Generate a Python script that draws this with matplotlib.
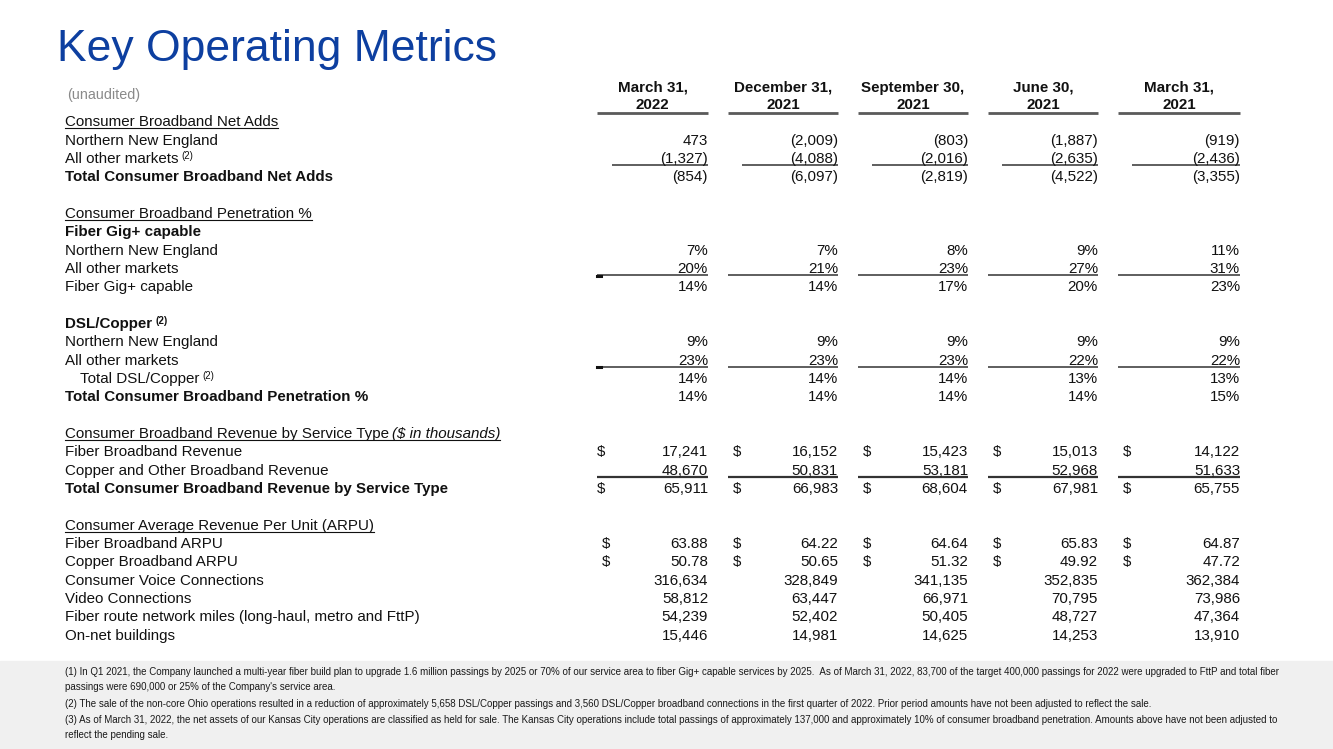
import matplotlib
matplotlib.use("Agg")
import matplotlib.pyplot as plt
from matplotlib.patches import Rectangle

plt.rcParams['font.family'] = ['Liberation Sans', 'DejaVu Sans']

# column headers
periods = ["March 31,\n2022", "December 31,\n2021", "September 30,\n2021", "June 30,\n2021", "March 31,\n2021"]

# consumer broadband net adds
nne_net_adds = [473, -2009, -803, -1887, -919]
other_net_adds = [-1327, -4088, -2016, -2635, -2436]
total_net_adds = [-854, -6097, -2819, -4522, -3355]

# penetration %
fiber_pen_nne = [7, 7, 8, 9, 11]
fiber_pen_other = [20, 21, 23, 27, 31]
fiber_pen_total = [14, 14, 17, 20, 23]
dsl_pen_nne = [9, 9, 9, 9, 9]
dsl_pen_other = [23, 23, 23, 22, 22]
dsl_pen_total = [14, 14, 14, 13, 13]
total_pen = [14, 14, 14, 14, 15]

# revenue ($ in thousands)
fiber_rev = [17241, 16152, 15423, 15013, 14122]
copper_rev = [48670, 50831, 53181, 52968, 51633]
total_rev = [65911, 66983, 68604, 67981, 65755]

# ARPU and other metrics
fiber_arpu = [63.88, 64.22, 64.64, 65.83, 64.87]
copper_arpu = [50.78, 50.65, 51.32, 49.92, 47.72]
voice_conn = [316634, 328849, 341135, 352835, 362384]
video_conn = [58812, 63447, 66971, 70795, 73986]
fiber_miles = [54239, 52402, 50405, 48727, 47364]
onnet_bldgs = [15446, 14981, 14625, 14253, 13910]

footnotes = [
    "(1) In Q1 2021, the Company launched a multi-year fiber build plan to upgrade 1.6 million passings by 2025 or 70% of our service area to fiber Gig+ capable services by 2025.  As of March 31, 2022, 83,700 of the target 400,000 passings for 2022 were upgraded to FttP and total fiber\npassings were 690,000 or 25% of the Company's service area.",
    "(2) The sale of the non-core Ohio operations resulted in a reduction of approximately 5,658 DSL/Copper passings and 3,560 DSL/Copper broadband connections in the first quarter of 2022. Prior period amounts have not been adjusted to reflect the sale.",
    "(3) As of March 31, 2022, the net assets of our Kansas City operations are classified as held for sale. The Kansas City operations include total passings of approximately 137,000 and approximately 10% of consumer broadband penetration. Amounts above have not been adjusted to\nreflect the pending sale.",
]

# (label, kind, values, format, line under this row)
# kind: sec = underlined section head, bold, norm, ind = indented
rows = [
    ("Consumer Broadband Net Adds", "sec", None, None, None),
    ("Northern New England", "norm", nne_net_adds, "cnt", None),
    ("All other markets|(2)", "norm", other_net_adds, "cnt", "short"),
    ("Total Consumer Broadband Net Adds", "bold", total_net_adds, "cnt", None),
    None,
    ("Consumer Broadband Penetration %", "sec", None, None, None),
    ("Fiber Gig+ capable", "bold", None, None, None),
    ("Northern New England", "norm", fiber_pen_nne, "pct", None),
    ("All other markets", "norm", fiber_pen_other, "pct", "tick"),
    ("Fiber Gig+ capable", "norm", fiber_pen_total, "pct", None),
    None,
    ("DSL/Copper|(2)", "bold", None, None, None),
    ("Northern New England", "norm", dsl_pen_nne, "pct", None),
    ("All other markets", "norm", dsl_pen_other, "pct", "tick"),
    ("Total DSL/Copper|(2)", "ind", dsl_pen_total, "pct", None),
    ("Total Consumer Broadband Penetration %", "bold", total_pen, "pct", None),
    None,
    ("Consumer Broadband Revenue by Service Type", "sec_it", None, None, None),
    ("Fiber Broadband Revenue", "norm", fiber_rev, "usd", None),
    ("Copper and Other Broadband Revenue", "norm", copper_rev, "num", "full"),
    ("Total Consumer Broadband Revenue by Service Type", "bold", total_rev, "usd", None),
    None,
    ("Consumer Average Revenue Per Unit (ARPU)", "sec", None, None, None),
    ("Fiber Broadband ARPU", "norm", fiber_arpu, "arpu", None),
    ("Copper Broadband ARPU", "norm", copper_arpu, "arpu", None),
    ("Consumer Voice Connections", "norm", voice_conn, "num", None),
    ("Video Connections", "norm", video_conn, "num", None),
    ("Fiber route network miles (long-haul, metro and FttP)", "norm", fiber_miles, "num", None),
    ("On-net buildings", "norm", onnet_bldgs, "num", None),
]

col_left = [597, 728, 858, 988, 1118]
col_right = [708, 838, 968, 1098, 1240]
dollar_x = [601, 737, 867, 997, 1127]
label_x = 65
fs = 10.9
ink = "#111111"


def fmt(v, f):
    if f == "cnt":
        return f"({abs(v):,})" if v < 0 else f"{v:,}"
    if f == "pct":
        return f"{v}%"
    if f == "arpu":
        return f"{v:.2f}"
    return f"{v:,}"


fig = plt.figure(figsize=(13.33, 7.49), dpi=100)
ax = fig.add_axes([0, 0, 1, 1])
ax.set_xlim(0, 1333)
ax.set_ylim(749, 0)
ax.axis("off")
r = fig.canvas.get_renderer()


def right_edge(t):
    bb = t.get_window_extent(renderer=r)
    return ax.transData.inverted().transform((bb.x1, bb.y0))[0]


ax.text(57, 50, "Key Operating Metrics", fontsize=32, color="#0d3fa0", va="center", ha="left")
ax.text(67, 95, "(unaudited)", fontsize=10.4, color="#8a8a8a", va="center")

for i, p in enumerate(periods):
    cx = (col_left[i] + col_right[i]) / 2
    l1, l2 = p.split("\n")
    ax.text(cx, 88, l1, fontsize=fs, fontweight="bold", ha="center", va="center", color=ink)
    ax.text(cx, 105, l2, fontsize=fs, fontweight="bold", ha="center", va="center", color=ink)
    ax.plot([col_left[i], col_right[i]], [113, 113], color="#5a5a5a", lw=2, solid_capstyle="butt")

y0, step = 122, 18.33
for k, row in enumerate(rows):
    if row is None:
        continue
    label, kind, vals, f, line = row
    y = y0 + step * k
    base = y + 4.5
    weight = "bold" if kind == "bold" else "normal"
    x = label_x + (15 if kind == "ind" else 0)
    sup = None
    if "|" in label:
        label, sup = label.split("|")
    t = ax.text(x, base, label, fontsize=fs, fontweight=weight, va="baseline", color=ink)
    xe = right_edge(t)
    if sup:
        ax.text(xe + 3, base - 4, sup, fontsize=7, fontweight=weight, va="baseline", color=ink)
    if kind == "sec_it":
        t2 = ax.text(xe + 3, base, "($ in thousands)", fontsize=fs, style="italic",
                     va="baseline", color=ink)
        xe = right_edge(t2)
    if kind.startswith("sec"):
        ax.plot([x, xe], [base + 1.8, base + 1.8], color=ink, lw=0.8)
    if vals is not None:
        for i, v in enumerate(vals):
            ax.text(col_right[i], base, fmt(v, f), fontsize=fs, ha="right", va="baseline", color=ink)
            if f in ("usd", "arpu"):
                dx = dollar_x[i] + (5 if (f == "arpu" and i == 0) else 0)
                ax.text(dx, base, "$", fontsize=fs, ha="center", va="baseline", color=ink)
    if line:
        ly = base + 2
        for i in range(5):
            xs = col_left[i] + (14 if line == "short" else 0) + (1 if (line == "short" and i == 0) else 0)
            ax.plot([xs, col_right[i]], [ly, ly], color="#333333",
                    lw=1.6 if line == "full" else 1.1, solid_capstyle="butt")
            if line == "tick" and i == 0:
                ax.plot([col_left[i], col_left[i] + 4], [ly + 0.5, ly + 0.5], color="#111111", lw=2.2)

# footnote band
ax.add_patch(Rectangle((0, 661), 1333, 88, color="#f0f0f0", zorder=0))
fy = [672, 704, 720]
for y, note in zip(fy, footnotes):
    for j, ln in enumerate(note.split("\n")):
        ax.text(65, y + j * 15, ln, fontsize=7.0, color="#1a1a1a", va="center")

fig.savefig("out.png", dpi=100)
